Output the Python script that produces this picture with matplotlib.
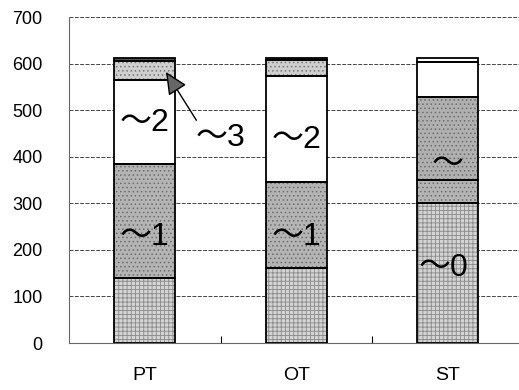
import numpy as np
import matplotlib.pyplot as plt

plt.rcParams['font.family'] = ['Liberation Sans', 'Noto Sans CJK JP', 'DejaVu Sans']
plt.rcParams['hatch.linewidth'] = 0.6

cats = ['PT', 'OT', 'ST']
seg_brick = [140, 160, 300]
seg_mid = [245, 185, 50]
seg_mid2 = [0, 0, 178]
seg_white = [179, 228, 75]
seg_light = [41, 35, 0]
seg_top = [7, 4, 10]

fig = plt.figure(figsize=(5.19, 3.90), dpi=100)
ax = fig.add_axes([0.133, 0.1205, 0.867, 0.8359])

x = np.arange(len(cats))
w = 0.4

layers = [
    (seg_brick, '#d4d4d4', '#8a8a8a', '++++'),
    (seg_mid, '#b4b4b4', '#6e6e6e', '....'),
    (seg_mid2, '#b0b0b0', '#6e6e6e', '....'),
    (seg_white, 'white', 'white', None),
    (seg_light, '#cfcfcf', '#777777', '....'),
    (seg_top, '#555555', '#555555', None),
]

bottom = np.zeros(len(cats))
for vals, fc, hc, hatch in layers:
    vals = np.array(vals, dtype=float)
    fcs = [fc] * len(cats)
    if fc == '#555555':
        fcs[2] = 'white'
    ax.bar(x, vals, w, bottom=bottom, color=fcs, edgecolor=hc,
           hatch=hatch, linewidth=0, zorder=2)
    ax.bar(x, vals, w, bottom=bottom, fill=False, edgecolor='black',
           linewidth=1.3, zorder=3)
    bottom += vals

ax.set_xlim(-0.5, 2.47)
ax.set_ylim(0, 700)
ax.set_yticks(range(0, 701, 100))
ax.set_xticks(x)
ax.set_xticklabels(cats)
ax.set_xticks([0.5, 1.5], minor=True)
ax.tick_params(axis='x', which='major', length=0, pad=17, labelsize=14)
ax.tick_params(axis='x', which='minor', length=5, direction='in', width=0.8)
ax.tick_params(axis='y', length=0, pad=19, labelsize=13)
ax.grid(axis='y', color='#444444', linestyle=(0, (4, 1.5)), lw=0.7, zorder=1)

for s in ['top', 'right']:
    ax.spines[s].set_visible(False)
for s in ['left', 'bottom']:
    ax.spines[s].set_color('#666666')
    ax.spines[s].set_linestyle((0, (2, 1)))
    ax.spines[s].set_linewidth(0.8)

fs = 23
ax.text(0, 472, '～2', ha='center', va='center', fontsize=fs, zorder=4)
ax.text(0, 227, '～1', ha='center', va='center', fontsize=fs, zorder=4)
ax.text(1, 435, '～2', ha='center', va='center', fontsize=fs, zorder=4)
ax.text(1, 227, '～1', ha='center', va='center', fontsize=fs, zorder=4)
ax.text(2, 382, '～', ha='center', va='center', fontsize=fs, zorder=4)
ax.text(1.97, 160, '～0', ha='center', va='center', fontsize=fs, zorder=4)

ax.annotate('～3', xy=(0.14, 582), xytext=(0.5, 440),
            ha='center', va='center', fontsize=fs, zorder=5,
            arrowprops=dict(arrowstyle='-|>,head_length=0.6,head_width=0.28',
                            color='black', lw=1.0, fc='#666666',
                            relpos=(0.05, 1.0), shrinkA=0, shrinkB=0))

plt.savefig('out.png', dpi=100)
